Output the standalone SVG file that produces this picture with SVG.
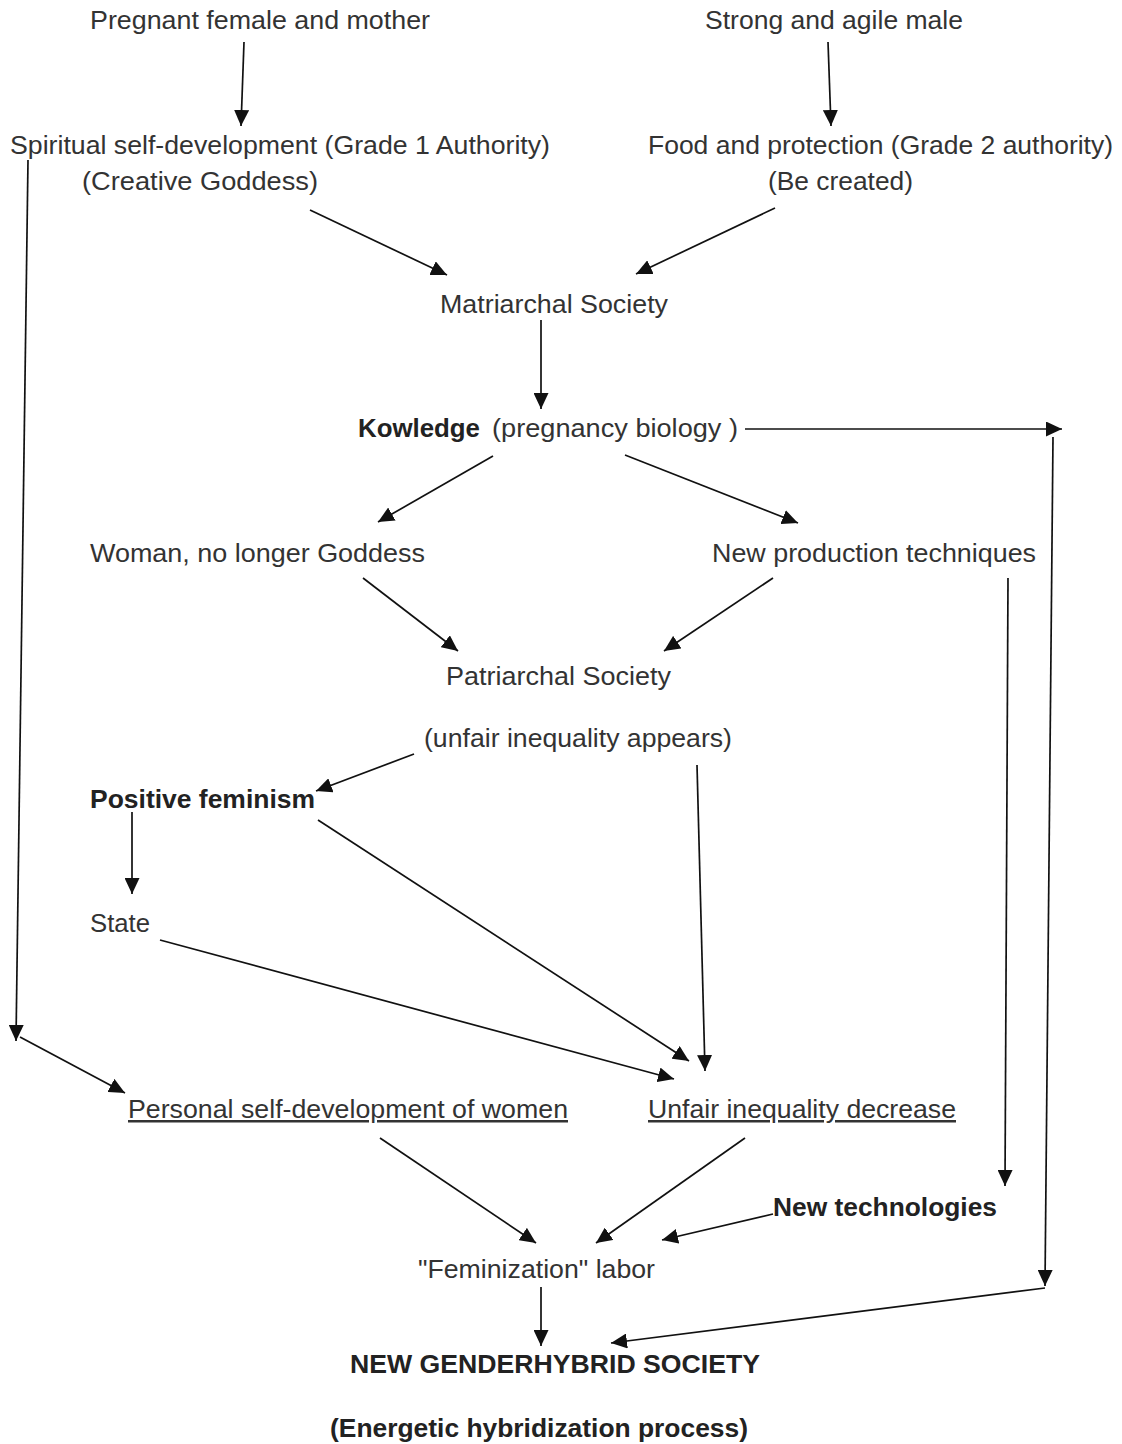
<svg xmlns="http://www.w3.org/2000/svg" width="1122" height="1444" viewBox="0 0 1122 1444">
<style>
text{font-family:"Liberation Sans",Arial,sans-serif;font-size:25px;fill:#333}
.b{font-weight:bold;fill:#222}
.u{text-decoration:underline}
.c line,.c polyline{stroke:#111;stroke-width:1.7;fill:none}
</style>
<defs>
<marker id="ah" markerUnits="userSpaceOnUse" markerWidth="17" markerHeight="15" refX="16" refY="7.5" orient="auto">
<path d="M0,0 L16,7.5 L0,15 Z" fill="#111"/>
</marker>
</defs>
<rect width="1122" height="1444" fill="#fff"/>
<g id="n1"><text x="90" y="29" textLength="340" lengthAdjust="spacingAndGlyphs">Pregnant  female and mother</text></g>
<g id="n2"><text x="705" y="29" textLength="258" lengthAdjust="spacingAndGlyphs">Strong and agile male</text></g>
<g id="n3"><text x="10" y="154" textLength="540" lengthAdjust="spacingAndGlyphs">Spiritual self-development (Grade 1 Authority)</text>
<text x="82" y="190" textLength="236" lengthAdjust="spacingAndGlyphs">(Creative  Goddess)</text></g>
<g id="n4"><text x="648" y="154" textLength="465" lengthAdjust="spacingAndGlyphs">Food and protection (Grade 2 authority)</text>
<text x="768" y="190" textLength="145" lengthAdjust="spacingAndGlyphs">(Be created)</text></g>
<g id="n5"><text x="440" y="313" textLength="228" lengthAdjust="spacingAndGlyphs">Matriarchal Society</text></g>
<g id="n6"><text x="358" y="437" class="b" textLength="122" lengthAdjust="spacingAndGlyphs">Kowledge</text>
<text x="492" y="437" textLength="246" lengthAdjust="spacingAndGlyphs">(pregnancy biology )</text></g>
<g id="n7"><text x="90" y="562" textLength="335" lengthAdjust="spacingAndGlyphs">Woman,  no longer Goddess</text></g>
<g id="n8"><text x="712" y="562" textLength="324" lengthAdjust="spacingAndGlyphs">New  production techniques</text></g>
<g id="n9"><text x="446" y="685" textLength="225" lengthAdjust="spacingAndGlyphs">Patriarchal  Society</text></g>
<g id="n10"><text x="424" y="747" textLength="308" lengthAdjust="spacingAndGlyphs">(unfair inequality appears)</text></g>
<g id="n11"><text x="90" y="808" class="b" textLength="225" lengthAdjust="spacingAndGlyphs">Positive feminism</text></g>
<g id="n12"><text x="90" y="932" textLength="60" lengthAdjust="spacingAndGlyphs">State</text></g>
<g id="n13"><text x="128" y="1118" class="u" textLength="440" lengthAdjust="spacingAndGlyphs">Personal self-development of women</text></g>
<g id="n14"><text x="648" y="1118" class="u" textLength="308" lengthAdjust="spacingAndGlyphs">Unfair inequality decrease</text></g>
<g id="n15"><text x="773" y="1216" class="b" textLength="224" lengthAdjust="spacingAndGlyphs">New technologies</text></g>
<g id="n16"><text x="418" y="1278" textLength="237" lengthAdjust="spacingAndGlyphs">"Feminization" labor</text></g>
<g id="n17"><text x="350" y="1373" class="b" textLength="410" lengthAdjust="spacingAndGlyphs">NEW GENDERHYBRID  SOCIETY</text></g>
<g id="n18"><text x="330" y="1437" class="b" textLength="418" lengthAdjust="spacingAndGlyphs">(Energetic hybridization process)</text></g>
<g id="connectors" class="c">
<line x1="244" y1="42" x2="241" y2="126" marker-end="url(#ah)"/>
<line x1="828" y1="42" x2="831" y2="126" marker-end="url(#ah)"/>
<line x1="310" y1="210" x2="447" y2="275" marker-end="url(#ah)"/>
<line x1="775" y1="208" x2="636" y2="274" marker-end="url(#ah)"/>
<line x1="541" y1="320" x2="541" y2="409" marker-end="url(#ah)"/>
<line x1="745" y1="429" x2="1062" y2="429" marker-end="url(#ah)"/>
<line x1="493" y1="456" x2="378" y2="522" marker-end="url(#ah)"/>
<line x1="625" y1="455" x2="798" y2="523" marker-end="url(#ah)"/>
<line x1="363" y1="578" x2="458" y2="651" marker-end="url(#ah)"/>
<line x1="773" y1="578" x2="664" y2="651" marker-end="url(#ah)"/>
<line x1="414" y1="754" x2="316" y2="791" marker-end="url(#ah)"/>
<line x1="697" y1="765" x2="705" y2="1071" marker-end="url(#ah)"/>
<line x1="132" y1="812" x2="132" y2="894" marker-end="url(#ah)"/>
<line x1="318" y1="820" x2="689" y2="1061" marker-end="url(#ah)"/>
<line x1="160" y1="940" x2="674" y2="1079" marker-end="url(#ah)"/>
<line x1="28" y1="160" x2="16" y2="1041" marker-end="url(#ah)"/>
<line x1="20" y1="1037" x2="125" y2="1093" marker-end="url(#ah)"/>
<line x1="1008" y1="578" x2="1005" y2="1186" marker-end="url(#ah)"/>
<line x1="380" y1="1138" x2="536" y2="1243" marker-end="url(#ah)"/>
<line x1="745" y1="1138" x2="596" y2="1243" marker-end="url(#ah)"/>
<line x1="773" y1="1214" x2="662" y2="1240" marker-end="url(#ah)"/>
<line x1="541" y1="1287" x2="541" y2="1346" marker-end="url(#ah)"/>
<line x1="1053" y1="437" x2="1045" y2="1286" marker-end="url(#ah)"/>
<line x1="1045" y1="1288" x2="611" y2="1343" marker-end="url(#ah)"/>
</g>
</svg>
